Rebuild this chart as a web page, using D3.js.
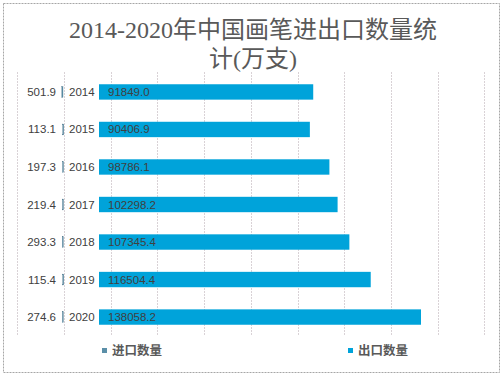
<!DOCTYPE html>
<html>
<head>
<meta charset="utf-8">
<script src="https://cdn.jsdelivr.net/npm/d3@7/dist/d3.min.js"></script>
<style>
  body { margin: 0; background: #fff; }
  svg { display: block; }
</style>
</head>
<body>
<div id="container"></div>
<script>
const years = ['2014', '2015', '2016', '2017', '2018', '2019', '2020']
const imports = [501.9, 113.1, 197.3, 219.4, 293.3, 115.4, 274.6]
const exports = [91849.0, 90406.9, 98786.1, 102298.2, 107345.4, 116504.4, 138058.2]
const seriesNames = ['进口数量', '出口数量']

const w = 503
const h = 376
const importColor = '#5b8fa8'
const exportColor = '#00a3da'

const svg = d3.select('#container')
    .append('svg')
    .attr('width', w)
    .attr('height', h)

// outer frame
svg.append('rect')
    .attr('x', 3.5).attr('y', 3.5)
    .attr('width', w - 7).attr('height', h - 7)
    .attr('fill', 'none')
    .attr('stroke', '#a6a6a6')
    .attr('stroke-dasharray', '2,1')

// title
const title = svg.append('text')
    .attr('text-anchor', 'middle')
    .attr('fill', '#595959')
    .style('font-family', '"Liberation Serif", "Noto Sans CJK SC", serif')
    .style('font-size', '24px')
title.append('tspan').attr('x', 253).attr('y', 38).text('2014-2020年中国画笔进出口数量统')
title.append('tspan').attr('x', 253).attr('y', 67).text('计(万支)')

const plotTop = 72, plotBottom = 336

// gridlines
const gridScale = d3.scaleLinear([0, 10], [17.3, 484.3])
svg.append('g')
    .selectAll('line')
    .data(gridScale.ticks(10))
    .enter()
    .append('line')
    .attr('x1', d => Math.round(gridScale(d)) + 0.5)
    .attr('x2', d => Math.round(gridScale(d)) + 0.5)
    .attr('y1', plotTop)
    .attr('y2', plotBottom)
    .attr('stroke', '#d9d2d6')
    .attr('stroke-dasharray', '2,1')

const band = d3.scaleBand(years, [plotTop + 1, plotBottom]).paddingInner(0.59).paddingOuter(0.3)
const bandImp = d3.scaleBand(years, [plotTop + 1, plotBottom]).paddingInner(0.71).paddingOuter(0.36)

const scaleExp = d3.scaleLinear([0, 138058.2], [99, 421])
const scaleImp = d3.scaleLinear([0, 20000], [64, 17])

const labelFont = '"Liberation Sans", Arial, sans-serif'

// export bars
svg.append('g')
    .selectAll('rect')
    .data(exports)
    .enter()
    .append('rect')
    .attr('x', scaleExp(0))
    .attr('y', (d, i) => band(years[i]))
    .attr('width', d => scaleExp(d) - scaleExp(0))
    .attr('height', band.bandwidth())
    .attr('fill', exportColor)

svg.append('g')
    .selectAll('text')
    .data(exports)
    .enter()
    .append('text')
    .attr('x', scaleExp(0) + 9)
    .attr('y', (d, i) => band(years[i]) + band.bandwidth() / 2 + 4)
    .attr('fill', '#404040')
    .style('font-family', labelFont)
    .style('font-size', '11.5px')
    .text(d => d.toFixed(1))

// import bars (tiny, pointing left)
svg.append('g')
    .selectAll('rect')
    .data(imports)
    .enter()
    .append('rect')
    .attr('x', d => scaleImp(d) - 1)
    .attr('y', (d, i) => bandImp(years[i]))
    .attr('width', d => Math.max(scaleImp(0) - scaleImp(d), 1))
    .attr('height', bandImp.bandwidth())
    .attr('fill', importColor)
    .attr('stroke', '#3f6a80')
    .attr('stroke-width', 0.3)

svg.append('g')
    .selectAll('text')
    .data(imports)
    .enter()
    .append('text')
    .attr('x', 56)
    .attr('y', (d, i) => band(years[i]) + band.bandwidth() / 2 + 4)
    .attr('text-anchor', 'end')
    .attr('fill', '#404040')
    .style('font-family', labelFont)
    .style('font-size', '11.5px')
    .text(d => d.toFixed(1))

// category labels
svg.append('g')
    .selectAll('text')
    .data(years)
    .enter()
    .append('text')
    .attr('x', 69)
    .attr('y', d => band(d) + band.bandwidth() / 2 + 4)
    .attr('fill', '#404040')
    .style('font-family', labelFont)
    .style('font-size', '11.5px')
    .text(d => d)

// legend
const legendX = [102, 348]
const legendColors = [importColor, exportColor]
const legend = svg.append('g').attr('id', 'legend')
seriesNames.forEach((name, i) => {
    legend.append('rect')
        .attr('x', legendX[i])
        .attr('y', 348)
        .attr('width', 5)
        .attr('height', 5)
        .attr('fill', legendColors[i])
    legend.append('text')
        .attr('x', legendX[i] + 10)
        .attr('y', 355)
        .attr('fill', '#595959')
        .style('font-family', '"Noto Sans CJK SC", sans-serif')
        .style('font-size', '12.5px')
        .style('font-weight', 'bold')
        .text(name)
})
</script>
</body>
</html>
